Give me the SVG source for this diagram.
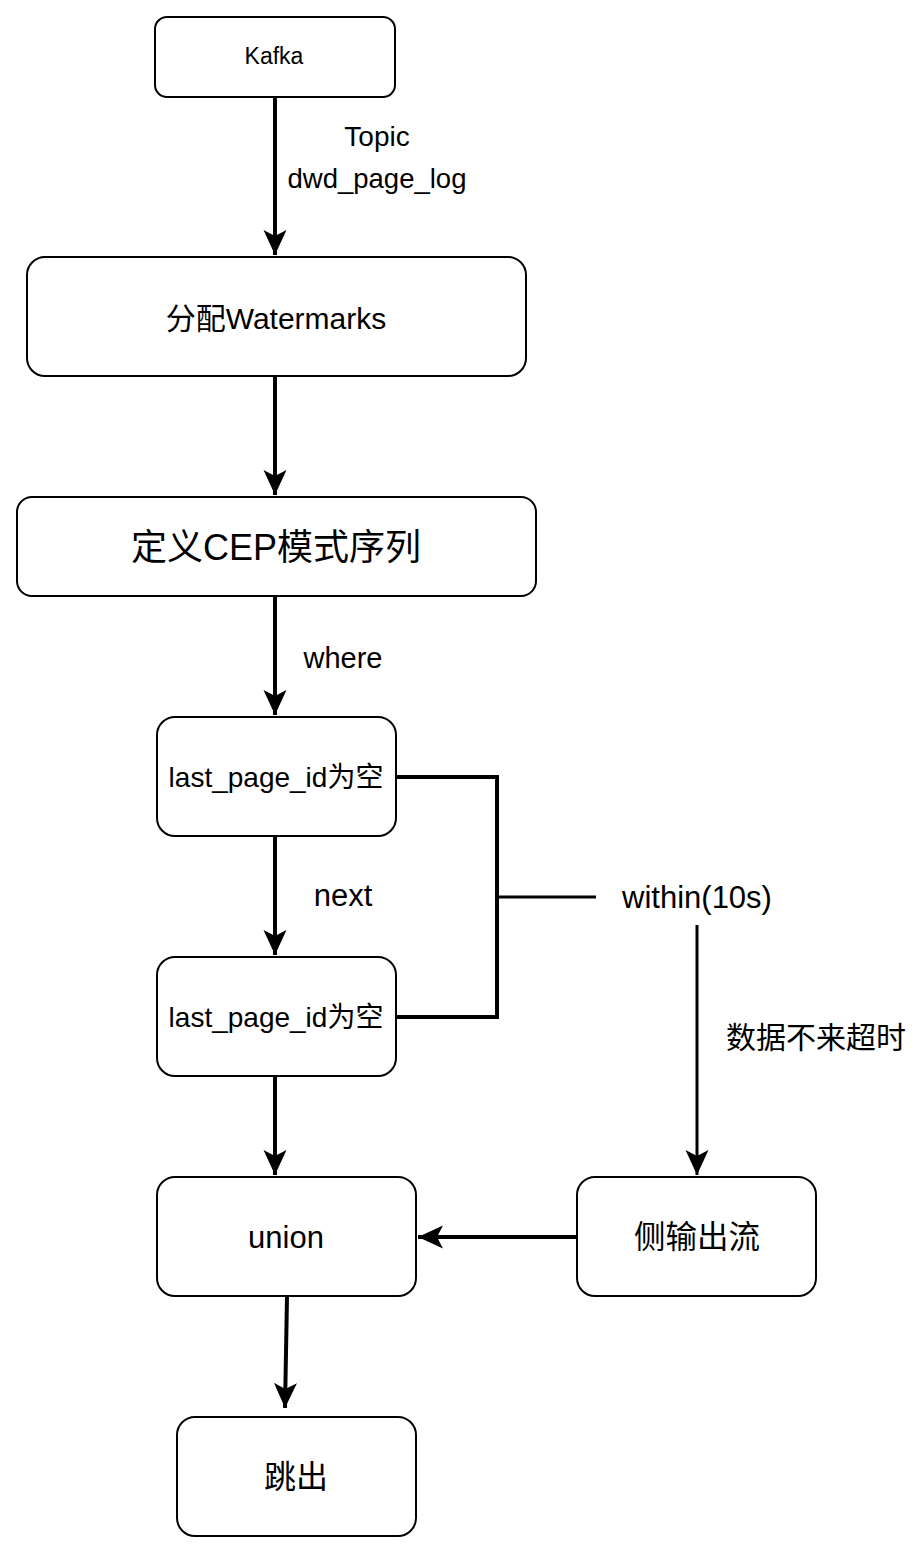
<svg xmlns="http://www.w3.org/2000/svg" width="923" height="1554" viewBox="0 0 923 1554">
<style>
.box{fill:#fff;stroke:#000;stroke-width:2}
.t{font-family:"Liberation Sans","Noto Sans CJK SC",sans-serif;fill:#000;text-anchor:middle;dominant-baseline:central}
.c{fill:none;stroke:#000;stroke-width:4}
.c2{fill:none;stroke:#000;stroke-width:3}
</style>
<defs>
<marker id="ah" markerUnits="userSpaceOnUse" markerWidth="28" markerHeight="26" refX="25" refY="13" orient="auto" viewBox="0 0 28 26">
<path d="M0,1.5 L25,13 L0,24.5 L6,13 Z" fill="#000"/>
</marker>
</defs>
<rect width="923" height="1554" fill="#fff"/>
<g id="connectors">
<line class="c" x1="275" y1="97" x2="275" y2="255" marker-end="url(#ah)"/>
<line class="c" x1="275" y1="376" x2="275" y2="495" marker-end="url(#ah)"/>
<line class="c" x1="275" y1="597" x2="275" y2="715" marker-end="url(#ah)"/>
<line class="c" x1="275" y1="836" x2="275" y2="955" marker-end="url(#ah)"/>
<line class="c" x1="275" y1="1076" x2="275" y2="1175" marker-end="url(#ah)"/>
<line class="c" x1="287" y1="1297" x2="285" y2="1408" marker-end="url(#ah)"/>
<line class="c" x1="577" y1="1237" x2="418" y2="1237" marker-end="url(#ah)"/>
<line class="c2" x1="697" y1="925" x2="697" y2="1175" marker-end="url(#ah)"/>
<polyline class="c" points="396,777 497,777 497,1017 396,1017"/>
<line class="c2" x1="497" y1="897" x2="596" y2="897"/>
<text class="t" x="377" y="136" font-size="28">Topic</text>
<text class="t" x="377" y="178" font-size="27.5">dwd_page_log</text>
<text class="t" x="343" y="658" font-size="29">where</text>
<text class="t" x="343" y="895" font-size="31">next</text>
<text class="t" x="697" y="897" font-size="31">within(10s)</text>
<text class="t" x="816" y="1037" font-size="30">数据不来超时</text>
</g>
<g id="kafka">
<rect class="box" x="155" y="17" width="240" height="80" rx="12"/>
<text class="t" x="274" y="56" font-size="23">Kafka</text>
</g>
<g id="watermarks">
<rect class="box" x="27" y="257" width="499" height="119" rx="18"/>
<text class="t" x="276" y="318" font-size="30">分配Watermarks</text>
</g>
<g id="cep">
<rect class="box" x="17" y="497" width="519" height="99" rx="15"/>
<text class="t" x="276" y="547" font-size="36">定义CEP模式序列</text>
</g>
<g id="p1">
<rect class="box" x="157" y="717" width="239" height="119" rx="18"/>
<text class="t" x="276" y="777" font-size="28">last_page_id为空</text>
</g>
<g id="p2">
<rect class="box" x="157" y="957" width="239" height="119" rx="18"/>
<text class="t" x="276" y="1017" font-size="28">last_page_id为空</text>
</g>
<g id="union">
<rect class="box" x="157" y="1177" width="259" height="119" rx="18"/>
<text class="t" x="286" y="1237" font-size="31">union</text>
</g>
<g id="side">
<rect class="box" x="577" y="1177" width="239" height="119" rx="18"/>
<text class="t" x="697" y="1237" font-size="31.5">侧输出流</text>
</g>
<g id="jump">
<rect class="box" x="177" y="1417" width="239" height="119" rx="18"/>
<text class="t" x="296" y="1477" font-size="32">跳出</text>
</g>
</svg>
